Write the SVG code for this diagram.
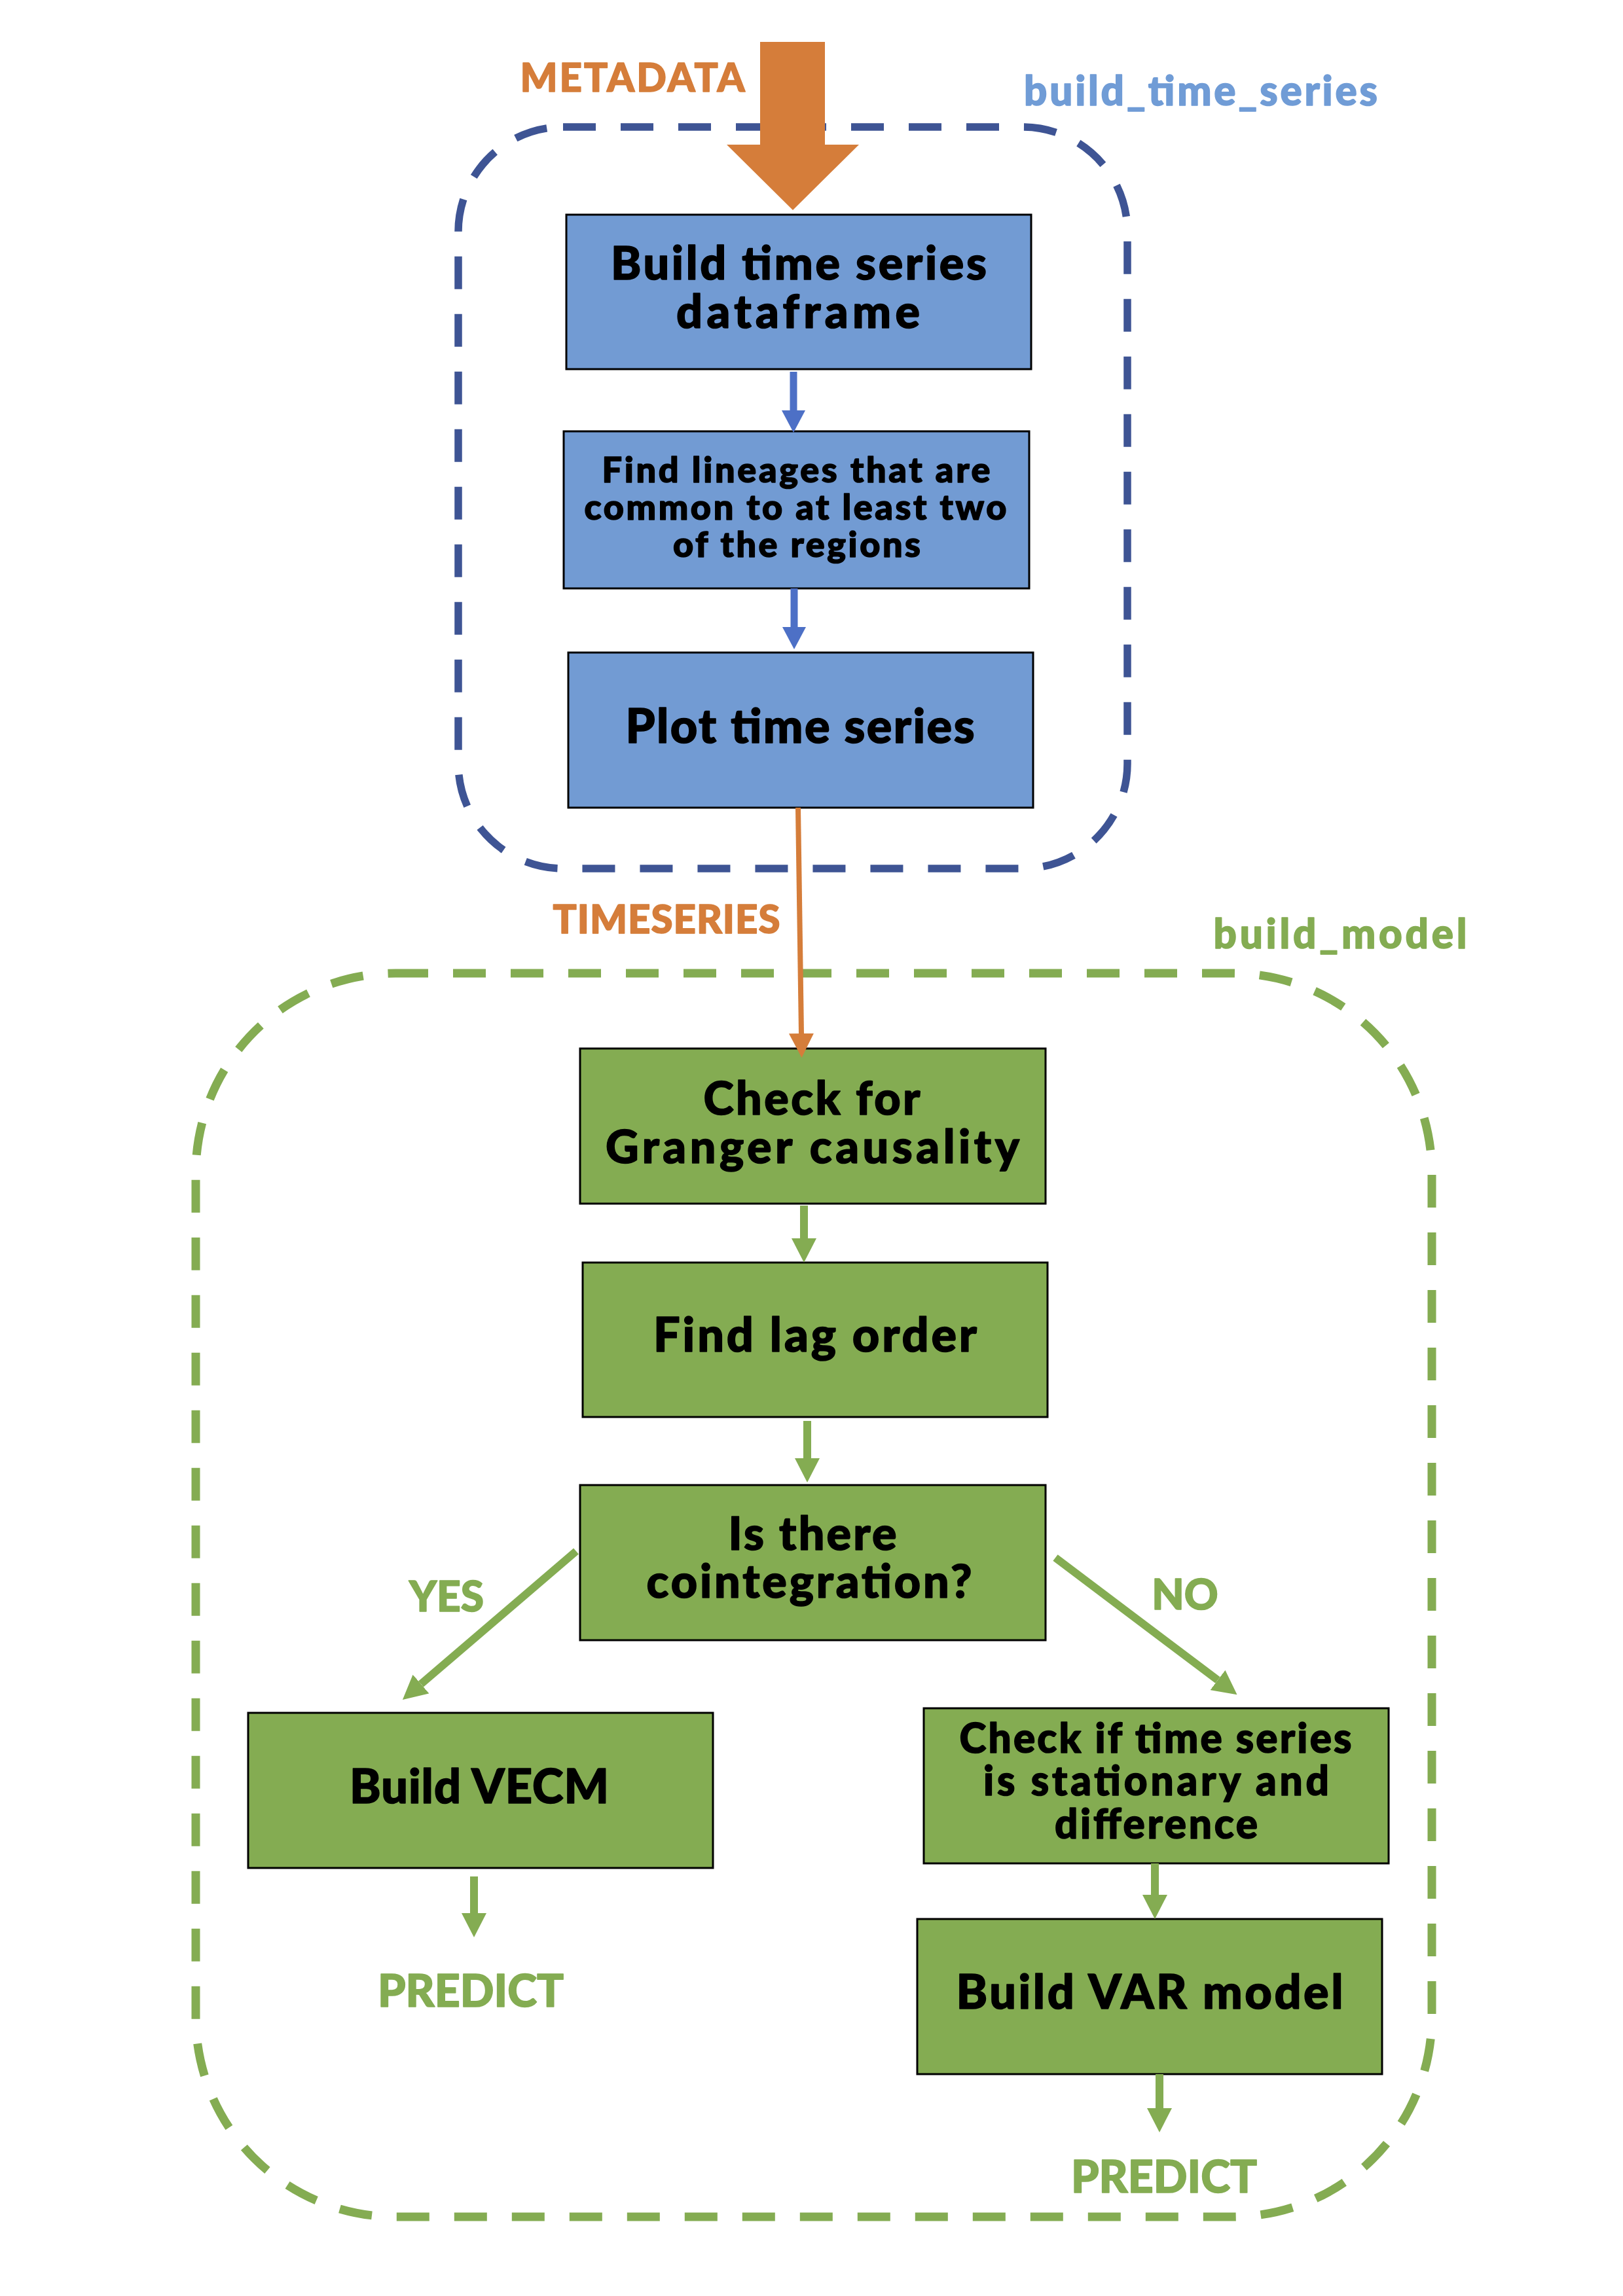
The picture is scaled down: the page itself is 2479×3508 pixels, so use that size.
<svg xmlns="http://www.w3.org/2000/svg" width="2479" height="3508" viewBox="0 0 2479 3508">
<style>
.t{font-family:Lato,"Liberation Sans","DejaVu Sans",sans-serif;font-weight:900;text-anchor:middle;stroke-width:1.6;stroke-linejoin:round}
.box-b{fill:#729bd3;stroke:#000;stroke-width:3}
.box-g{fill:#84ac52;stroke:#000;stroke-width:3}
.lb{fill:#000;stroke:#000}
.lo{fill:#d57d3a;stroke:#d57d3a}
.lg{fill:#84ac52;stroke:#84ac52}
.lbl{fill:#709cd6;stroke:#709cd6}
.bl{fill:none;stroke:#4d70c6;stroke-width:11}
.gl{fill:none;stroke:#84ac52;stroke-width:12}
.ol{fill:none;stroke:#d57d3a;stroke-width:8}
.grpb{fill:none;stroke:#3e5494;stroke-width:11.5;stroke-dasharray:50 38}
.grpg{fill:none;stroke:#84ac52;stroke-width:13;stroke-dasharray:50 38}
</style>
<defs>
<marker id="mb" markerUnits="userSpaceOnUse" markerWidth="34" markerHeight="36" refX="0" refY="18" orient="auto" viewBox="0 0 34 36"><path d="M0,0 L34,18 L0,36 z" fill="#4d70c6"/></marker>
<marker id="mg" markerUnits="userSpaceOnUse" markerWidth="37" markerHeight="38" refX="0" refY="19" orient="auto" viewBox="0 0 37 38"><path d="M0,0 L37,19 L0,38 z" fill="#84ac52"/></marker>
<marker id="mo" markerUnits="userSpaceOnUse" markerWidth="37" markerHeight="38" refX="0" refY="19" orient="auto" viewBox="0 0 37 38"><path d="M0,0 L37,19 L0,38 z" fill="#d57d3a"/></marker>
</defs>
<rect width="2479" height="3508" fill="#fff"/>

<g id="group-build_time_series">
<rect class="grpb" x="700" y="194" width="1022" height="1133" rx="160" ry="160"/>
<text class="t lbl" x="1834" y="161" font-size="62" textLength="540">build_time_series</text>
</g>
<g id="group-build_model">
<rect class="grpg" x="299" y="1487" width="1888" height="1900" rx="305" ry="305"/>
<text class="t lg" x="2047" y="1449" font-size="62" textLength="387">build_model</text>
</g>

<g id="node-build-df">
<rect class="box-b" x="865" y="328" width="710" height="236"/>
<text class="t lb" x="1220" y="427" font-size="70" textLength="574">Build time series</text>
<text class="t lb" x="1219" y="501" font-size="70" textLength="372">dataframe</text>
</g>
<g id="node-find-lineages">
<rect class="box-b" x="861" y="659" width="711" height="240"/>
<text class="t lb" x="1216" y="737" font-size="54" textLength="593">Find lineages that are</text>
<text class="t lb" x="1215" y="794" font-size="54" textLength="645">common to at least two</text>
<text class="t lb" x="1217" y="851" font-size="54" textLength="378">of the regions</text>
</g>
<g id="node-plot">
<rect class="box-b" x="868" y="997" width="710" height="237"/>
<text class="t lb" x="1222" y="1135" font-size="72" textLength="533">Plot time series</text>
</g>
<g id="node-granger">
<rect class="box-g" x="886" y="1602" width="711" height="237"/>
<text class="t lb" x="1240" y="1703" font-size="70" textLength="331">Check for</text>
<text class="t lb" x="1241" y="1777" font-size="70" textLength="632">Granger causality</text>
</g>
<g id="node-lag">
<rect class="box-g" x="890" y="1929" width="710" height="236"/>
<text class="t lb" x="1245" y="2065" font-size="72" textLength="494">Find lag order</text>
</g>
<g id="node-coint">
<rect class="box-g" x="886" y="2269" width="711" height="237"/>
<text class="t lb" x="1241" y="2368" font-size="70" textLength="257">Is there</text>
<text class="t lb" x="1236" y="2441" font-size="70" textLength="497">cointegration?</text>
</g>
<g id="node-vecm">
<rect class="box-g" x="379" y="2617" width="710" height="237"/>
<text class="t lb" x="732" y="2755" font-size="72" textLength="396">Build VECM</text>
</g>
<g id="node-stationary">
<rect class="box-g" x="1411" y="2610" width="710" height="237"/>
<text class="t lb" x="1765" y="2678" font-size="62" textLength="599">Check if time series</text>
<text class="t lb" x="1766" y="2743" font-size="62" textLength="528">is stationary and</text>
<text class="t lb" x="1766" y="2809" font-size="62" textLength="310">difference</text>
</g>
<g id="node-var">
<rect class="box-g" x="1401" y="2932" width="710" height="237"/>
<text class="t lb" x="1756" y="3069" font-size="72" textLength="591">Build VAR model</text>
</g>

<g id="connectors">
<polygon points="1161,64 1260,64 1260,221 1312,221 1211,321 1110,221 1161,221" fill="#d57d3a"/>
<line class="bl" x1="1212" y1="568" x2="1212" y2="627" marker-end="url(#mb)"/>
<line class="bl" x1="1213" y1="899" x2="1213" y2="958" marker-end="url(#mb)"/>
<line class="ol" x1="1219" y1="1234" x2="1224" y2="1579" marker-end="url(#mo)"/>
<line class="gl" x1="1228" y1="1842" x2="1228" y2="1892" marker-end="url(#mg)"/>
<line class="gl" x1="1233" y1="2171" x2="1233" y2="2228" marker-end="url(#mg)"/>
<line class="gl" x1="880" y1="2370" x2="643" y2="2573" marker-end="url(#mg)"/>
<line class="gl" x1="1612" y1="2380" x2="1860" y2="2567" marker-end="url(#mg)"/>
<line class="gl" x1="724" y1="2867" x2="724" y2="2923" marker-end="url(#mg)"/>
<line class="gl" x1="1764" y1="2847" x2="1764" y2="2895" marker-end="url(#mg)"/>
<line class="gl" x1="1771" y1="3169" x2="1771" y2="3221" marker-end="url(#mg)"/>
</g>

<g id="labels">
<text class="t lo" x="966" y="140" font-size="60" textLength="343">METADATA</text>
<text class="t lo" x="1018" y="1426" font-size="60" textLength="347">TIMESERIES</text>
<text class="t lg" x="682" y="2462" font-size="64">YES</text>
<text class="t lg" x="1810" y="2459" font-size="64">NO</text>
<text class="t lg" x="719" y="3066" font-size="68">PREDICT</text>
<text class="t lg" x="1778" y="3350" font-size="68">PREDICT</text>
</g>
</svg>
